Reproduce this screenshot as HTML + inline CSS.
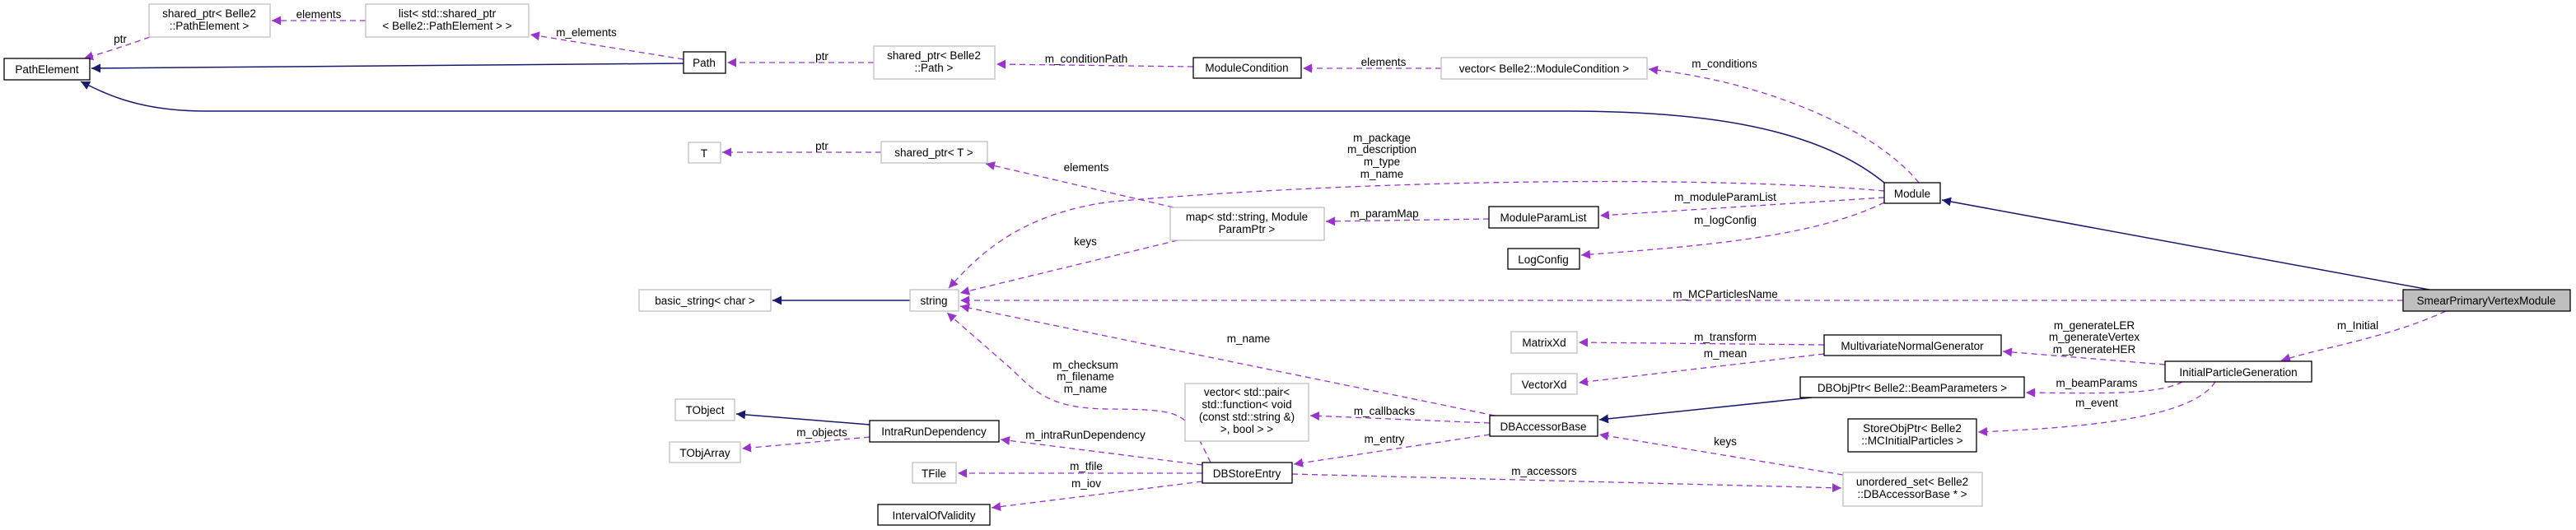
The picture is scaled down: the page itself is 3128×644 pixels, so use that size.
<!DOCTYPE html>
<html><head><meta charset="utf-8"><style>
html,body{margin:0;padding:0;background:#fff;}
svg{display:block;}
text{font-family:"Liberation Sans","DejaVu Sans",sans-serif;font-size:13.5px;fill:#000;}
.b{fill:#fff;stroke:#000;stroke-width:1.3;}
.g{fill:#fff;stroke:#bfbfbf;stroke-width:1.3;}
.d{fill:none;stroke:#9a32cd;stroke-width:1.3;stroke-dasharray:7,5;}
.n{fill:none;stroke:#191970;stroke-width:1.5;}
</style></head><body>
<svg width="3128" height="644" viewBox="0 0 3128 644" xmlns="http://www.w3.org/2000/svg">
<defs>
<marker id="mp" viewBox="0 0 10 10" refX="10" refY="5" markerWidth="11" markerHeight="11" markerUnits="userSpaceOnUse" orient="auto"><path d="M0,0 L10,5 L0,10 z" fill="#9a32cd"/></marker>
<marker id="mn" viewBox="0 0 10 10" refX="10" refY="5" markerWidth="11" markerHeight="11" markerUnits="userSpaceOnUse" orient="auto"><path d="M0,0 L10,5 L0,10 z" fill="#191970"/></marker>
</defs>

<!-- edges -->
<g>
<path class="d" marker-end="url(#mp)" d="M182,45 Q140,60 102,71"/>
<path class="d" marker-end="url(#mp)" d="M444,25 L330,25"/>
<path class="d" marker-end="url(#mp)" d="M830,72 L644,42"/>
<path class="n" marker-end="url(#mn)" d="M830,77 L111,83"/>
<path class="n" marker-end="url(#mn)" d="M2288,222 C2200,150 2050,135 1900,135 L250,135 C170,135 130,115 98,99"/>
<path class="d" marker-end="url(#mp)" d="M1061,76 L883,76"/>
<path class="d" marker-end="url(#mp)" d="M1449,81 L1210,78"/>
<path class="d" marker-end="url(#mp)" d="M1750,83 L1582,83"/>
<path class="d" marker-end="url(#mp)" d="M2330,222 C2280,160 2150,100 2002,84"/>
<path class="d" marker-end="url(#mp)" d="M1070,185 L877,185"/>
<path class="d" marker-end="url(#mp)" d="M1425,252 L1197,199"/>
<path class="d" marker-end="url(#mp)" d="M2288,232 C2100,215 1700,215 1350,245 C1230,260 1180,320 1152,350"/>
<path class="d" marker-end="url(#mp)" d="M1808,266 L1610,269"/>
<path class="d" marker-end="url(#mp)" d="M1430,292 L1166,356"/>
<path class="d" marker-end="url(#mp)" d="M2288,240 L1943,262"/>
<path class="d" marker-end="url(#mp)" d="M2288,246 C2200,290 2050,300 1920,310"/>
<path class="d" marker-end="url(#mp)" d="M2918,365 L1166,365"/>
<path class="n" marker-end="url(#mn)" d="M1105,365 L938,365"/>
<path class="n" marker-end="url(#mn)" d="M2950,352 L2358,243"/>
<path class="d" marker-end="url(#mp)" d="M2970,378 C2900,410 2830,420 2770,438"/>
<path class="d" marker-end="url(#mp)" d="M2629,443 L2432,427"/>
<path class="d" marker-end="url(#mp)" d="M2215,419 L1917,416"/>
<path class="d" marker-end="url(#mp)" d="M2215,430 L1917,465"/>
<path class="d" marker-end="url(#mp)" d="M2650,464 C2620,480 2550,478 2460,477"/>
<path class="d" marker-end="url(#mp)" d="M2690,464 C2660,510 2520,520 2402,525"/>
<path class="n" marker-end="url(#mn)" d="M2200,483 L1942,510"/>
<path class="d" marker-end="url(#mp)" d="M1815,505 L1166,372"/>
<path class="d" marker-end="url(#mp)" d="M1809,514 L1591,505"/>
<path class="d" marker-end="url(#mp)" d="M1809,528 L1571,564"/>
<path class="d" marker-end="url(#mp)" d="M2238,577 L1942,528"/>
<path class="d" marker-end="url(#mp)" d="M1569,576 L2236,593"/>
<path class="d" marker-end="url(#mp)" d="M1470,562 C1440,500 1440,498 1350,497 C1280,497 1260,480 1230,450 L1150,380"/>
<path class="d" marker-end="url(#mp)" d="M1460,565 L1215,534"/>
<path class="n" marker-end="url(#mn)" d="M1056,516 L894,503"/>
<path class="d" marker-end="url(#mp)" d="M1056,531 L901,545"/>
<path class="d" marker-end="url(#mp)" d="M1460,575 L1163,575"/>
<path class="d" marker-end="url(#mp)" d="M1460,585 L1204,617"/>
</g>

<!-- edge labels -->
<g text-anchor="middle">
<text x="146" y="52">ptr</text>
<text x="387" y="22">elements</text>
<text x="712" y="44">m_elements</text>
<text x="998" y="73">ptr</text>
<text x="1319" y="76">m_conditionPath</text>
<text x="1680" y="80">elements</text>
<text x="2094" y="82">m_conditions</text>
<text x="998" y="182">ptr</text>
<text x="1319" y="208">elements</text>
<text x="1678" y="172">m_package</text>
<text x="1678" y="186">m_description</text>
<text x="1678" y="201">m_type</text>
<text x="1678" y="216">m_name</text>
<text x="1681" y="264">m_paramMap</text>
<text x="1318" y="298">keys</text>
<text x="2095" y="244">m_moduleParamList</text>
<text x="2095" y="272">m_logConfig</text>
<text x="2095" y="362">m_MCParticlesName</text>
<text x="2863" y="400">m_Initial</text>
<text x="2543" y="400">m_generateLER</text>
<text x="2543" y="414">m_generateVertex</text>
<text x="2543" y="429">m_generateHER</text>
<text x="2095" y="414">m_transform</text>
<text x="2095" y="434">m_mean</text>
<text x="2546" y="470">m_beamParams</text>
<text x="2546" y="494">m_event</text>
<text x="1516" y="416">m_name</text>
<text x="1318" y="448">m_checksum</text>
<text x="1318" y="462">m_filename</text>
<text x="1318" y="477">m_name</text>
<text x="1681" y="504">m_callbacks</text>
<text x="1681" y="538">m_entry</text>
<text x="2095" y="541">keys</text>
<text x="1875" y="577">m_accessors</text>
<text x="998" y="530">m_objects</text>
<text x="1318" y="533">m_intraRunDependency</text>
<text x="1319" y="571">m_tfile</text>
<text x="1319" y="592">m_iov</text>
</g>

<!-- nodes -->
<g text-anchor="middle">
<rect class="b" x="5" y="71" width="104" height="26"/><text x="57" y="89">PathElement</text>
<rect class="g" x="181" y="5" width="147" height="40"/><text x="254" y="21">shared_ptr&lt; Belle2</text><text x="254" y="36">::PathElement &gt;</text>
<rect class="g" x="444" y="5" width="198" height="40"/><text x="543" y="21">list&lt; std::shared_ptr</text><text x="543" y="36">&lt; Belle2::PathElement &gt; &gt;</text>
<rect class="b" x="830" y="63" width="51" height="26"/><text x="855" y="81">Path</text>
<rect class="g" x="1061" y="56" width="147" height="40"/><text x="1134" y="72">shared_ptr&lt; Belle2</text><text x="1134" y="87">::Path &gt;</text>
<rect class="b" x="1449" y="70" width="131" height="25"/><text x="1514" y="87">ModuleCondition</text>
<rect class="g" x="1750" y="70" width="250" height="26"/><text x="1875" y="88">vector&lt; Belle2::ModuleCondition &gt;</text>
<rect class="g" x="836" y="173" width="39" height="25"/><text x="855" y="191">T</text>
<rect class="g" x="1070" y="172" width="129" height="26"/><text x="1134" y="190">shared_ptr&lt; T &gt;</text>
<rect class="g" x="1421" y="252" width="187" height="40"/><text x="1514" y="268">map&lt; std::string, Module</text><text x="1514" y="283">ParamPtr &gt;</text>
<rect class="b" x="2288" y="222" width="68" height="25"/><text x="2322" y="240">Module</text>
<rect class="b" x="1808" y="251" width="133" height="26"/><text x="1874" y="269">ModuleParamList</text>
<rect class="b" x="1831" y="302" width="87" height="25"/><text x="1874" y="320">LogConfig</text>
<rect class="g" x="776" y="352" width="160" height="26"/><text x="856" y="370">basic_string&lt; char &gt;</text>
<rect class="g" x="1105" y="352" width="59" height="26"/><text x="1134" y="370">string</text>
<rect fill="#bfbfbf" stroke="#000" stroke-width="1.3" x="2918" y="352" width="203" height="26"/><text x="3019" y="370">SmearPrimaryVertexModule</text>
<rect class="g" x="1835" y="403" width="80" height="26"/><text x="1875" y="421">MatrixXd</text>
<rect class="g" x="1835" y="454" width="80" height="25"/><text x="1875" y="472">VectorXd</text>
<rect class="b" x="2215" y="407" width="215" height="25"/><text x="2322" y="425">MultivariateNormalGenerator</text>
<rect class="b" x="2629" y="439" width="178" height="25"/><text x="2718" y="457">InitialParticleGeneration</text>
<rect class="b" x="2186" y="458" width="272" height="25"/><text x="2322" y="476">DBObjPtr&lt; Belle2::BeamParameters &gt;</text>
<rect class="g" x="1439" y="466" width="150" height="70"/><text x="1514" y="481">vector&lt; std::pair&lt;</text><text x="1514" y="496">std::function&lt; void</text><text x="1514" y="511">(const std::string &amp;)</text><text x="1514" y="526">&gt;, bool &gt; &gt;</text>
<rect class="b" x="1809" y="505" width="131" height="25"/><text x="1874" y="523">DBAccessorBase</text>
<rect class="b" x="2244" y="509" width="156" height="40"/><text x="2322" y="525">StoreObjPtr&lt; Belle2</text><text x="2322" y="540">::MCInitialParticles &gt;</text>
<rect class="g" x="820" y="485" width="72" height="26"/><text x="856" y="503">TObject</text>
<rect class="b" x="1056" y="511" width="157" height="26"/><text x="1134" y="529">IntraRunDependency</text>
<rect class="g" x="813" y="537" width="86" height="25"/><text x="856" y="555">TObjArray</text>
<rect class="g" x="1108" y="562" width="53" height="25"/><text x="1134" y="580">TFile</text>
<rect class="b" x="1460" y="562" width="109" height="25"/><text x="1514" y="580">DBStoreEntry</text>
<rect class="g" x="2238" y="574" width="169" height="41"/><text x="2322" y="590">unordered_set&lt; Belle2</text><text x="2322" y="605">::DBAccessorBase * &gt;</text>
<rect class="b" x="1066" y="613" width="136" height="25"/><text x="1134" y="631">IntervalOfValidity</text>
</g>
</svg>
</body></html>
